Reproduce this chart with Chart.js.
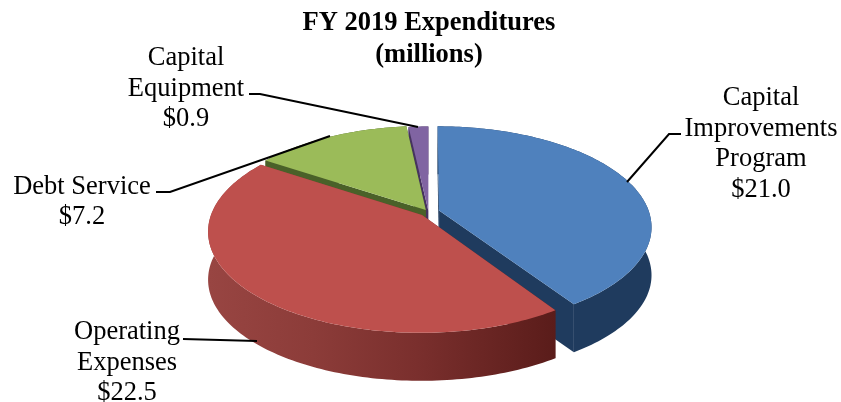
<!DOCTYPE html>
<html>
<head>
<meta charset="utf-8">
<title>FY 2019 Expenditures</title>
<script src="https://cdn.jsdelivr.net/npm/chart.js@4"></script>
<style>
  html, body { margin: 0; padding: 0; background: #fff; }
  canvas { display: block; }
</style>
</head>
<body>
<canvas id="expenditureChart" width="841" height="402"></canvas>
<script>
const categories = ["Capital Improvements Program", "Operating Expenses", "Debt Service", "Capital Equipment"];
const expenditures = [21.0, 22.5, 7.2, 0.9];
const titleLines = ["FY 2019 Expenditures", "(millions)"];
const labelLines = [
  ["Capital", "Improvements", "Program"],
  ["Operating", "Expenses"],
  ["Debt Service"],
  ["Capital", "Equipment"]
];

// how each slice looks
const topColors = ["#4f81bd", "#be504d", "#9bbb59", "#8064a2"];
const wallColors = ["#1f3b5e", "#7a2f2d", "#4a6129", "#46335f"];
const slicePull = [8.5, 7, 4, 2];
const drawOrder = [3, 2, 0, 1];

// tilted disc: centre, radii, depth and the amount of foreshortening
const pie = { x: 428.5, y: 212, rx: 210, ry: 98, depth: 48, persp: 0.159 };

// where the text sits and the lines running from it to the slices
const labelBoxes = [
  { x: 761, y: 105 },
  { x: 127, y: 339 },
  { x: 82, y: 193.5 },
  { x: 186, y: 65 }
];
const leaders = [
  [[627, 182], [669, 134], [681, 134]],
  [[183, 339], [257, 341]],
  [[156, 192], [170, 192], [330, 136]],
  [[249, 94], [260, 94], [418, 127]]
];

function project(mx, my, drop) {
  const w = 1 - pie.persp * my;
  return {
    x: pie.x + pie.rx * mx / w,
    y: pie.y + pie.ry * my / w + (drop || 0)
  };
}

function sliceGeometry(arc) {
  const pull = arc.options.offset / arc.outerRadius;
  const mid = (arc.startAngle + arc.endAngle) / 2;
  return {
    ox: pull * Math.cos(mid),
    oy: pull * Math.sin(mid),
    start: arc.startAngle,
    end: arc.endAngle
  };
}

function rimPoints(g, drop) {
  const pts = [];
  const steps = Math.max(2, Math.ceil((g.end - g.start) / 0.02));
  for (let i = 0; i <= steps; i++) {
    const a = g.start + (g.end - g.start) * i / steps;
    pts.push(project(g.ox + Math.cos(a), g.oy + Math.sin(a), drop));
  }
  return pts;
}

function tracePath(ctx, pts) {
  ctx.beginPath();
  pts.forEach((p, i) => (i ? ctx.lineTo(p.x, p.y) : ctx.moveTo(p.x, p.y)));
  ctx.closePath();
}

function wallFill(ctx, index) {
  if (index !== 1) return wallColors[index];
  // the front slice darkens from left to right
  const grad = ctx.createLinearGradient(209, 0, 556, 0);
  grad.addColorStop(0, "#984542");
  grad.addColorStop(0.3, "#8c3c39");
  grad.addColorStop(0.6, "#7a2f2d");
  grad.addColorStop(1, "#5a1c1a");
  return grad;
}

function drawSlice(ctx, arc, index) {
  const g = sliceGeometry(arc);
  const top = rimPoints(g, 0);
  const bottom = rimPoints(g, pie.depth);
  const apex = project(g.ox, g.oy, 0);
  const apexLow = project(g.ox, g.oy, pie.depth);
  const fill = wallFill(ctx, index);

  ctx.fillStyle = fill;
  tracePath(ctx, [apex, top[0], bottom[0], apexLow]);
  ctx.fill();
  tracePath(ctx, [apex, top[top.length - 1], bottom[bottom.length - 1], apexLow]);
  ctx.fill();
  tracePath(ctx, top.concat(bottom.slice().reverse()));
  ctx.fill();

  ctx.fillStyle = topColors[index];
  tracePath(ctx, [apex].concat(top));
  ctx.fill();
}

const tiltedPie = {
  id: "tiltedPie",
  beforeDatasetDraw(chart, args) {
    const arcs = chart.getDatasetMeta(args.index).data;
    drawOrder.forEach((i) => drawSlice(chart.ctx, arcs[i], i));
    return false;
  }
};

const sliceLabels = {
  id: "sliceLabels",
  afterDraw(chart) {
    const ctx = chart.ctx;
    ctx.save();
    ctx.strokeStyle = "#000";
    ctx.lineWidth = 2;
    leaders.forEach((line) => {
      ctx.beginPath();
      line.forEach((p, i) => (i ? ctx.lineTo(p[0], p[1]) : ctx.moveTo(p[0], p[1])));
      ctx.stroke();
    });
    ctx.fillStyle = "#000";
    ctx.font = '26.5px "Liberation Serif"';
    ctx.textAlign = "center";
    ctx.textBaseline = "alphabetic";
    categories.forEach((name, i) => {
      const lines = labelLines[i].concat("$" + expenditures[i].toFixed(1));
      lines.forEach((text, n) => {
        ctx.fillText(text, labelBoxes[i].x, labelBoxes[i].y + n * 30.7);
      });
    });
    ctx.restore();
  }
};

new Chart(document.getElementById("expenditureChart"), {
  type: "pie",
  data: {
    labels: categories,
    datasets: [{
      data: expenditures,
      backgroundColor: topColors,
      offset: slicePull,
      borderWidth: 0
    }]
  },
  options: {
    responsive: false,
    animation: false,
    layout: { padding: { left: 17 } },
    plugins: {
      legend: { display: false },
      tooltip: { enabled: false },
      title: {
        display: true,
        text: titleLines,
        color: "#000",
        font: { family: '"Liberation Serif"', size: 26.5, weight: "bold", lineHeight: 1.2 },
        padding: { top: 7, bottom: 0 }
      }
    }
  },
  plugins: [tiltedPie, sliceLabels]
});
</script>
</body>
</html>
